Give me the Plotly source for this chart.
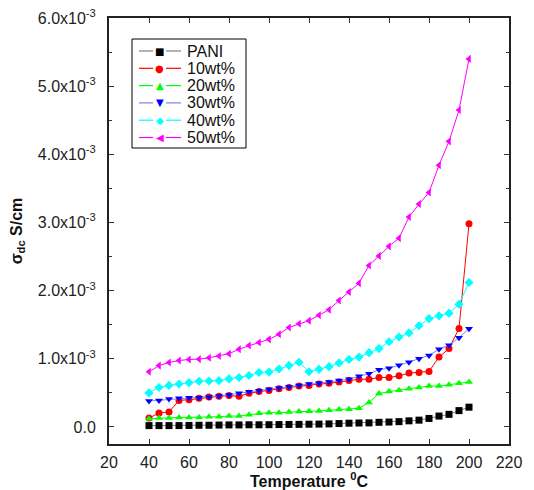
import plotly.graph_objects as go

temperature = list(range(40, 205, 5))

pani = [0.02, 0.02, 0.02, 0.02, 0.022, 0.025, 0.025, 0.028, 0.03, 0.03, 0.032, 0.032, 0.033,
        0.035, 0.037, 0.038, 0.04, 0.042, 0.045, 0.05, 0.055, 0.058, 0.06, 0.068, 0.072, 0.078,
        0.09, 0.1, 0.125, 0.16, 0.185, 0.24, 0.29]
wt10 = [0.13, 0.205, 0.22, 0.39, 0.40, 0.42, 0.44, 0.45, 0.46, 0.45, 0.495, 0.52, 0.535,
        0.56, 0.58, 0.60, 0.61, 0.63, 0.64, 0.66, 0.68, 0.70, 0.70, 0.725, 0.725, 0.75,
        0.79, 0.80, 0.815, 1.025, 1.15, 1.445, 2.98]
wt20 = [0.12, 0.13, 0.13, 0.14, 0.14, 0.14, 0.15, 0.15, 0.16, 0.16, 0.18, 0.20, 0.21,
        0.21, 0.22, 0.225, 0.23, 0.235, 0.245, 0.255, 0.26, 0.275, 0.36, 0.49, 0.52, 0.54,
        0.56, 0.58, 0.60, 0.60, 0.62, 0.64, 0.66]
wt30 = [0.38, 0.39, 0.41, 0.42, 0.43, 0.43, 0.44, 0.455, 0.47, 0.495, 0.515, 0.53, 0.555,
        0.57, 0.59, 0.61, 0.63, 0.64, 0.66, 0.68, 0.70, 0.745, 0.78, 0.84, 0.86, 0.905,
        0.95, 1.0, 1.05, 1.14, 1.2, 1.31, 1.44]
wt40 = [0.5, 0.58, 0.61, 0.63, 0.65, 0.67, 0.675, 0.68, 0.705, 0.725, 0.755, 0.80, 0.805,
        0.85, 0.90, 0.95, 0.81, 0.845, 0.885, 0.94, 0.99, 1.025, 1.09, 1.15, 1.25, 1.32,
        1.38, 1.485, 1.59, 1.63, 1.67, 1.8, 2.12]
wt50 = [0.81, 0.9, 0.945, 0.975, 0.99, 0.995, 1.015, 1.04, 1.075, 1.14, 1.195, 1.24, 1.285,
        1.36, 1.46, 1.515, 1.56, 1.64, 1.72, 1.855, 1.98, 2.11, 2.37, 2.51, 2.65, 2.77,
        3.08, 3.27, 3.44, 3.84, 4.19, 4.65, 5.40]

series_names = ["PANI", "10wt%", "20wt%", "30wt%", "40wt%", "50wt%"]
series_vals = [pani, wt10, wt20, wt30, wt40, wt50]
marker_colors = ["#000000", "#ff0000", "#00ff00", "#0000ff", "#00ffff", "#ff00ff"]
line_colors = ["#808080", "#ff0000", "#00ff00", "#8080ff", "#00ffff", "#ff00ff"]
symbols = ["square", "circle", "triangle-up", "triangle-down", "diamond", "triangle-left"]
legend_glyphs = ["■", "●", "▲", "▼", "◆", "◀"]

y_tickvals = [0, 1e-3, 2e-3, 3e-3, 4e-3, 5e-3, 6e-3]
y_ticktext = ["0.0", "1.0x10<sup>-3</sup>", "2.0x10<sup>-3</sup>", "3.0x10<sup>-3</sup>",
              "4.0x10<sup>-3</sup>", "5.0x10<sup>-3</sup>", "6.0x10<sup>-3</sup>"]
x_tickvals = [20, 40, 60, 80, 100, 120, 140, 160, 180, 200, 220]

FONT = "Arial, Liberation Sans, sans-serif"

fig = go.Figure()
for name, vals, mc, lc, sym in zip(series_names, series_vals, marker_colors, line_colors, symbols):
    fig.add_trace(go.Scatter(
        x=temperature, y=[v * 1e-3 for v in vals], name=name, mode="lines+markers",
        line=dict(color=lc, width=1),
        marker=dict(symbol=sym, color=mc, size=7, line=dict(width=0)),
        showlegend=False,
    ))

# page body has an 8px margin, so the figure starts at (8, 8) in the window
OFF = 8
PLOT_L, PLOT_R, PLOT_T, PLOT_B = 109, 509, 18, 444
def px_x(p):
    return (p - PLOT_L) / (PLOT_R - PLOT_L)
def px_y(p):
    return (PLOT_B - p) / (PLOT_B - PLOT_T)

# hand-built legend (compact row spacing like the reference)
fig.add_shape(type="rect", xref="paper", yref="paper",
              x0=px_x(132), x1=px_x(246), y0=px_y(148), y1=px_y(39),
              line=dict(color="#000000", width=1), fillcolor="white", layer="above")
row_y = [51, 68.3, 85.6, 102.9, 120.2, 137.5]
for name, mc, lc, glyph, ry in zip(series_names, marker_colors, line_colors, legend_glyphs, row_y):
    for xa, xb in ((139, 153), (166, 181)):
        fig.add_shape(type="line", xref="paper", yref="paper",
                      x0=px_x(xa), x1=px_x(xb), y0=px_y(ry), y1=px_y(ry),
                      line=dict(color=lc, width=1.2), layer="above")
    fig.add_annotation(xref="paper", yref="paper", x=px_x(159.5), y=px_y(ry),
                       text=glyph, showarrow=False, xanchor="center", yanchor="middle",
                       font=dict(family="DejaVu Sans", size=10, color=mc))
    fig.add_annotation(xref="paper", yref="paper", x=px_x(185), y=px_y(ry),
                       text=name, showarrow=False, xanchor="left", yanchor="middle",
                       font=dict(family=FONT, size=16, color="#111111"))

axis_common = dict(showline=True, linecolor="#222222", linewidth=2, mirror="allticks",
                   ticks="inside", ticklen=5, tickwidth=1, tickcolor="#333333",
                   showgrid=False, zeroline=False, automargin=False,
                   ticklabeloverflow="allow",
                   tickfont=dict(family=FONT, size=16, color="#222222"))

fig.update_layout(
    width=534 - OFF, height=490 - OFF,
    margin=dict(l=PLOT_L - OFF, r=534 - PLOT_R, t=PLOT_T - OFF, b=490 - PLOT_B),
    paper_bgcolor="white", plot_bgcolor="white",
    font=dict(family=FONT, color="#111111"),
    xaxis=dict(range=[20, 220], tickvals=x_tickvals, ticklabelstandoff=3,
               title=dict(text="<b>Temperature <sup>0</sup>C</b>", font=dict(size=16), standoff=10),
               **axis_common),
    yaxis=dict(range=[-0.25e-3, 6.0e-3], tickvals=y_tickvals, ticktext=y_ticktext,
               ticklabelstandoff=8,
               minor=dict(ticks="inside", ticklen=3, dtick=0.5e-3, tickcolor="#333333"),
               title=dict(text="<b>σ<sub>dc</sub> S/cm</b>", font=dict(size=16), standoff=14),
               **axis_common),
    showlegend=False,
)

fig.write_html("out.html")
